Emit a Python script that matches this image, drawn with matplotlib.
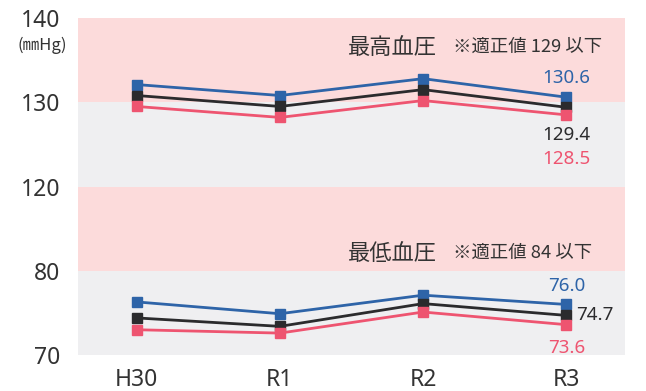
import matplotlib
matplotlib.use("Agg")
import matplotlib.pyplot as plt
import numpy as np

plt.rcParams['font.family'] = ['Noto Sans', 'Noto Sans CJK JP', 'DejaVu Sans']

categories = ["H30", "R1", "R2", "R3"]
sys_blue = [132.1, 130.8, 132.8, 130.6]
sys_black = [130.8, 129.5, 131.5, 129.4]
sys_pink = [129.5, 128.2, 130.2, 128.5]
dia_blue = [76.3, 74.9, 77.1, 76.0]
dia_black = [74.4, 73.4, 76.1, 74.7]
dia_pink = [73.0, 72.6, 75.1, 73.6]
tick_values = [70, 80, 120, 130, 140]

BLUE = "#2e64a8"
BLACK = "#2b2b2d"
PINK = "#ee5470"
TXT = "#333333"
CJK = ['Noto Sans CJK JP', 'DejaVu Sans']


def up(v):
    return 2 + (np.asarray(v, dtype=float) - 120) / 10.0


def low(v):
    return (np.asarray(v, dtype=float) - 70) / 10.0


fig = plt.figure(figsize=(6.46, 3.91), dpi=100)
ax = fig.add_axes([78 / 646, 1 - 355 / 391, (625 - 78) / 646, (355 - 18) / 391])

x = np.arange(len(categories))
ax.set_xlim(-0.41, 3.41)
ax.set_ylim(0, 4)

# background bands
ax.axhspan(up(130), up(140), color="#fcdbdb", lw=0, zorder=0)
ax.axhspan(up(120), up(130), color="#efeff1", lw=0, zorder=0)
ax.axhspan(low(80), up(120), color="#fcdbdb", lw=0, zorder=0)
ax.axhspan(low(70), low(80), color="#efeff1", lw=0, zorder=0)

for series, col in [(sys_blue, BLUE), (sys_black, BLACK), (sys_pink, PINK)]:
    ax.plot(x, up(series), color=col, lw=2.0, marker="s", ms=6.5, zorder=3)
for series, col in [(dia_blue, BLUE), (dia_black, BLACK), (dia_pink, PINK)]:
    ax.plot(x, low(series), color=col, lw=2.0, marker="s", ms=6.5, zorder=3)

# value labels at R3
fs = 13.5
ax.annotate(f"{sys_blue[-1]:.1f}", (x[-1], up(sys_blue[-1])), xytext=(0, 13.5),
            textcoords="offset points", ha="center", va="center", color=BLUE, fontsize=fs)
ax.annotate(f"{sys_black[-1]:.1f}", (x[-1], up(sys_black[-1])), xytext=(0, -20),
            textcoords="offset points", ha="center", va="center", color=BLACK, fontsize=fs)
ax.annotate(f"{sys_pink[-1]:.1f}", (x[-1], up(sys_pink[-1])), xytext=(0, -32),
            textcoords="offset points", ha="center", va="center", color=PINK, fontsize=fs)
ax.annotate(f"{dia_blue[-1]:.1f}", (x[-1], low(dia_blue[-1])), xytext=(0, 13.5),
            textcoords="offset points", ha="center", va="center", color=BLUE, fontsize=fs)
ax.annotate(f"{dia_black[-1]:.1f}", (x[-1], low(dia_black[-1])), xytext=(7, 0),
            textcoords="offset points", ha="left", va="center", color=BLACK, fontsize=fs)
ax.annotate(f"{dia_pink[-1]:.1f}", (x[-1], low(dia_pink[-1])), xytext=(0, -17),
            textcoords="offset points", ha="center", va="center", color=PINK, fontsize=fs)

# headers
fig.text(348 / 646, 1 - 47 / 391, "最高血圧", fontsize=16, color=TXT, ha="left", va="center", family=CJK)
fig.text(453 / 646, 1 - 47 / 391, "※適正値 129 以下", fontsize=13.2, color=TXT, ha="left", va="center", family=CJK)
fig.text(348 / 646, 1 - 253 / 391, "最低血圧", fontsize=16, color=TXT, ha="left", va="center", family=CJK)
fig.text(453 / 646, 1 - 253 / 391, "※適正値 84 以下", fontsize=13.2, color=TXT, ha="left", va="center", family=CJK)

# unit label
fig.text(42 / 646, 1 - 45 / 391, "(㎜Hg)", fontsize=12, color=TXT, ha="center", va="center", family=CJK)

ax.set_xticks(x)
ax.set_xticklabels(categories, fontsize=16.5, color=TXT)
ax.set_yticks(list(low(tick_values[:2])) + list(up(tick_values[2:])))
ax.set_yticklabels([str(v) for v in tick_values], fontsize=16.5, color=TXT)
ax.tick_params(axis="both", length=0)
ax.tick_params(axis="y", pad=13)
ax.tick_params(axis="x", pad=9)
for s in ax.spines.values():
    s.set_visible(False)

fig.savefig("out.png", dpi=100)
